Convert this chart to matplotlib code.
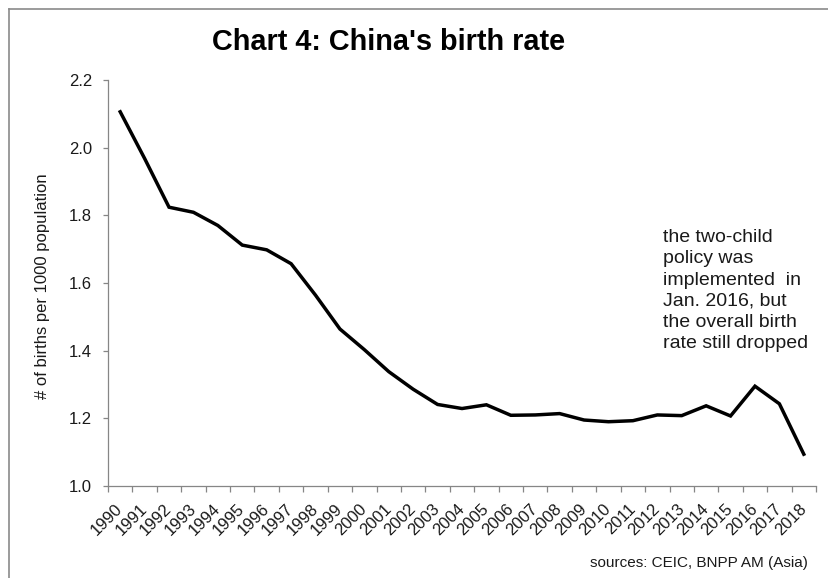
import matplotlib
matplotlib.use("Agg")
import matplotlib.pyplot as plt
from matplotlib.lines import Line2D
from matplotlib.ticker import FixedLocator
import numpy as np

years = [str(y) for y in range(1990, 2019)]
birth_rate = [2.106, 1.968, 1.824, 1.809, 1.770, 1.712, 1.698, 1.657, 1.564, 1.464,
              1.403, 1.338, 1.286, 1.241, 1.229, 1.240, 1.209, 1.210, 1.214, 1.195,
              1.190, 1.193, 1.210, 1.208, 1.237, 1.207, 1.295, 1.243, 1.094]
y_ticks = [1.0, 1.2, 1.4, 1.6, 1.8, 2.0, 2.2]

plt.rcParams['font.family'] = ['Liberation Sans', 'DejaVu Sans']

W, H = 829, 578
fig = plt.figure(figsize=(W / 100, H / 100), dpi=100)
fig.patch.set_facecolor('white')

# axes placement in pixel terms
left, right, top, bottom = 108, 816, 80, 486
ax = fig.add_axes([left / W, 1 - bottom / H, (right - left) / W, (bottom - top) / H])

x = np.arange(len(years))
ax.plot(x, birth_rate, color='black', lw=2.5, solid_joinstyle='miter')

ax.set_xlim(-0.5, len(years) - 0.5)
ax.set_ylim(1.0, 2.2)
ax.set_yticks(y_ticks)
ax.set_yticklabels([f"{v:.1f}" for v in y_ticks], fontsize=12, color='#1a1a1a')

# category labels at centres, tick marks on boundaries
ax.set_xticks(x)
ax.set_xticklabels(years, rotation=45, ha='right', va='center',
                   rotation_mode='anchor', fontsize=12, color='#1a1a1a')
ax.xaxis.set_minor_locator(FixedLocator(np.arange(-0.5, len(years), 1.0)))
ax.tick_params(axis='x', which='major', length=0, pad=15)
ax.tick_params(axis='x', which='minor', length=4.5, color='#868686', width=0.9)
ax.tick_params(axis='y', length=3.6, color='#868686', width=0.9, pad=8)

for s in ['top', 'right']:
    ax.spines[s].set_visible(False)
for s in ['left', 'bottom']:
    ax.spines[s].set_color('#868686')
    ax.spines[s].set_linewidth(0.9)

fig.text(389 / W, 1 - 42 / H, "Chart 4: China's birth rate", ha='center', va='center',
         fontsize=20.8, fontweight='bold', color='black')

fig.text(43 / W, 1 - 286 / H, "# of births per 1000 population", rotation=90,
         ha='center', va='center', fontsize=12, color='#1a1a1a')

fig.text(663 / W, 1 - 229 / H,
         "the two-child\npolicy was\nimplemented  in\nJan. 2016, but\nthe overall birth\nrate still dropped",
         ha='left', va='top', fontsize=14, linespacing=1.33, color='#1a1a1a')

fig.text(808 / W, 1 - 563 / H, "sources: CEIC, BNPP AM (Asia)", ha='right', va='center',
         fontsize=11, color='#1a1a1a')

# frame lines along the top and left edges
fig.add_artist(Line2D([9 / W, 1.0], [1 - 9 / H, 1 - 9 / H], transform=fig.transFigure,
                      color='#8a8a8a', lw=1.2))
fig.add_artist(Line2D([9 / W, 9 / W], [0.0, 1 - 9 / H], transform=fig.transFigure,
                      color='#8a8a8a', lw=1.2))

fig.savefig('out.png', dpi=100, facecolor='white')
